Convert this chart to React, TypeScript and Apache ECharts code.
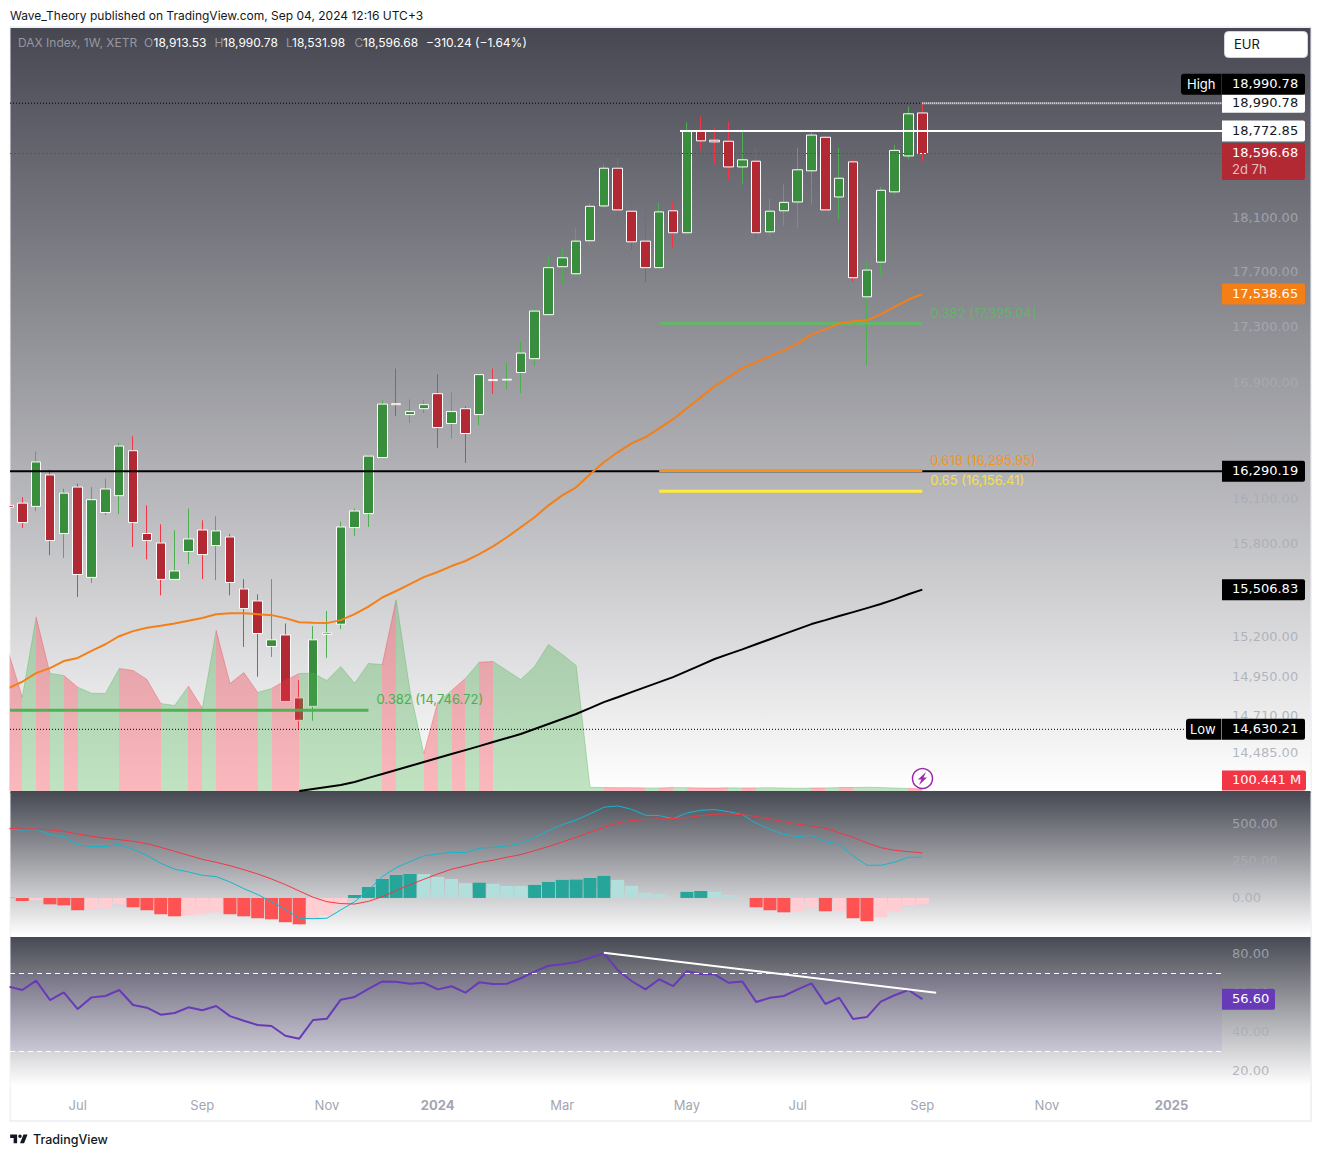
import React, { useEffect, useRef } from "react";
import * as echarts from "echarts";

// ---------- data ----------
const firstWeek = -1; // May 29 2023 is week -1, one step per week
const opens = [16061,16076,16054,16266,15874,16184,15586,16013,16126,16431,15874,15811,15573,15755,15897,15794,15851,15511,15434,15144,15217,14823,14771,15220,15285,15913,16006,16384,16756,16680,16721,16826,16618,16721,16680,16925,16922,16975,17073,17389,17740,17688,17933,18195,18483,18155,17930,17733,18158,17993,18772,18700,18692,18493,18537,18000,18158,18225,18463,18723,18263,18532,17519,17774,18302,18578,18913.53];
const closes = [16048,15946,16354,15827,16143,15605,16099,16171,16463,15946,15827,15573,15628,15838,15735,15891,15553,15385,15226,15186,14801,14685,15186,15230,15917,16023,16394,16753,16749,16701,16749,16590,16701,16549,16960,16918,16927,17113,17415,17733,17806,17930,18192,18483,18165,17925,17733,18150,17993,18772,18695,18687,18493,18548,17993,18155,18222,18471,18740,18165,18406,17659,17715,18314,18621,18906.9,18596.68];
const highs = [16075,16116,16426,16302,16173,16207,16184,16240,16486,16530,16061,15935,15895,16041,15961,15988,15869,15575,15477,15575,15290,14933,15273,15370,15952,16039,16394,16779,17003,16786,16779,16963,16835,16737,16968,17003,17045,17195,17439,17816,17873,18030,18218,18511,18560,18314,18190,18218,18227,18839,18886,18798,18844,18776,18640,18250,18358,18640,18776,18735,18640,18555,17784,18340,18664,18963,18990.78];
const lows = [16030,15911,16023,15730,15713,15459,15550,15995,16003,15785,15704,15470,15573,15672,15575,15568,15470,15141,14954,15078,14801,14630.21,14683,15072,15254,15858,15917,16384,16670,16622,16691,16449,16516,16347,16606,16823,16857,16831,17021,17389,17619,17663,17898,18177,18090,17865,17627,17733,17877,17993,18621,18514,18394,18358,17952,17967,18042,18027,18207,18165,18095,17627,17026,17674,18283,18552,18531.98];
const volumesM = [6940,4690,8690,5875,5775,5190,4890,4875,6125,6025,5575,4375,4275,5240,4140,8025,5375,5925,4925,5125,5525,5875,5890,5525,6225,5390,6375,6325,9560,5025,1875,4425,5025,5625,6440,6475,6025,5575,6225,7325,6825,6275,190,170,160,165,155,150,170,165,150,145,160,150,155,165,150,140,150,155,170,175,190,170,150,130,100.441];
const ema50 = [14884,14923,14977,15008,15052,15072,15116,15158,15209,15241,15262,15275,15290,15307,15325,15349,15355,15355,15349,15343,15324,15298,15294,15292,15311,15349,15397,15456,15498,15542,15588,15621,15660,15693,15738,15789,15849,15915,15982,16061,16128,16182,16271,16352,16420,16481,16523,16585,16648,16724,16800,16878,16941,17006,17048,17091,17132,17182,17247,17283,17326,17341,17348,17391,17445,17499,17538.65];
const ma200StartWeek = 20;
const ma200 = [14259,14271,14283,14295,14313,14337,14360,14384,14408,14432,14456,14480,14504,14528,14553,14577,14602,14632,14663,14693,14724,14760,14797,14827,14859,14890,14921,14952,14989,15027,15065,15096,15126,15158,15190,15222,15254,15286,15311,15337,15362,15388,15414,15444,15477,15506.83];
const macdLine = [468,457,464,428,414,360,347,347,363,329,288,234,194,176,153,144,108,63,23,-25,-77,-137,-140,-137,-81,-25,54,144,205,245,284,297,309,306,336,342,351,369,410,455,495,527,568,613,622,599,559,556,536,574,592,597,583,563,505,464,430,414,423,381,363,284,221,221,241,275,275];
const signalLine = [471,466,466,459,450,432,417,403,394,383,367,342,315,288,261,241,218,191,162,128,90,47,5,-25,-38,-41,-23,9,50,90,126,162,194,216,239,255,275,293,320,347,378,410,444,477,507,523,529,534,536,543,556,565,568,563,550,534,516,498,487,471,441,410,372,340,322,313,304];
const macdHist = [1,-20,-15,-43,-50,-83,-79,-70,-43,-63,-83,-110,-124,-117,-110,-97,-110,-124,-137,-144,-164,-178,-144,-117,-50,20,74,128,155,162,161,142,128,100,103,95,81,80,88,108,122,124,135,149,122,81,34,25,5,41,47,41,20,7,-63,-83,-97,-90,-63,-90,-89,-137,-157,-130,-90,-50,-43];
const rsi = [63,61.3,66.05,56.15,60.1,51.5,57.5,58.2,61.3,53.6,52.2,48.6,49.5,52.4,50.9,53.1,47.9,45.5,43.3,42.8,37.8,36.3,45.9,46.6,56.3,57.7,61.8,65.7,65.5,64.5,65,61.6,63.2,59.9,65.2,64.4,64.5,67.3,70.7,73.7,74.5,75.6,77.8,80.1,71.5,65.9,61.6,66.8,63.3,70.9,69.5,69.3,65,65.7,55.1,57.3,58.2,61.6,64.7,54.1,57.3,46.4,47.4,55.3,58.6,61.3,56.6];
const rsiTrendX = [42, 66];
const rsiTrendY = [80.4, 59.9];
const rsiUpper = 70;
const rsiLower = 30;

const monthWeeks = [4, 13, 22, 30, 39, 48, 56, 65, 74, 83];
const monthLabels = ["Jul", "Sep", "Nov", "2024", "Mar", "May", "Jul", "Sep", "Nov", "2025"];
const priceTicks = [18100, 17700, 17300, 16900, 16500, 16100, 15800, 15200, 14950, 14710, 14485];
const macdTicks = [0, 250, 500];
const rsiTicks = [20, 40, 60, 80];

const recentHigh = 18990.78;
const resistance = 18772.85;
const lastClose = 18596.68;
const support = 16290.19;
const yearLow = 14630.21;
const ema50Last = 17538.65;
const ma200Last = 15506.83;
const lastVolume = 100.441;
const lastRsi = 56.6;

const fibRight = [
  { price: 17325.04, label: "0.382 (17,325.04)" },
  { price: 16295.95, label: "0.618 (16,295.95)" },
  { price: 16156.41, label: "0.65 (16,156.41)" },
];
const fibLeft = { price: 14746.72, label: "0.382 (14,746.72)" };
const fibRightStart = 46;
const fibRightEnd = 65;
const fibLeftEnd = 25;

// ---------- layout constants ----------
const X_MIN = -0.888;
const X_MAX = 86.645;
const FONT = "Inter, 'Noto Sans', sans-serif";
const SCALE_FONT = "'DejaVu Sans', Inter, sans-serif";
const GREEN = "#4caf50";
const RED = "#f23645";
const BODY_GREEN = "#388e3c";
const BODY_RED = "#b22833";
const TICK = "rgba(168,171,183,0.85)";

const weekX = (i: number) => firstWeek + i;
const fmt = (v: number) =>
  v.toLocaleString("en-US", { minimumFractionDigits: 2, maximumFractionDigits: 2 });

function hline(name: string, v: number, from: number, to: number, color: string, width: number, type: any) {
  return {
    type: "line",
    name,
    xAxisIndex: 0,
    yAxisIndex: 0,
    data: [[from, v], [to, v]],
    symbol: "none",
    silent: true,
    animation: false,
    lineStyle: { color, width, type },
  };
}

type Tag = {
  value: number;
  text: string;
  bg?: string;
  fg: string;
  dy?: number;
  right?: number;
  h?: number;
  top?: number;
  sub?: string;
  side?: string;
};

function tagSeries(name: string, xAxisIndex: number, yAxisIndex: number, tags: Tag[]) {
  return {
    type: "custom",
    name,
    xAxisIndex,
    yAxisIndex,
    z: 6,
    silent: true,
    clip: false,
    animation: false,
    encode: { x: 0, y: 1 },
    data: tags.map((t) => [X_MAX, t.value]),
    renderItem: (params: any, api: any) => {
      const t = tags[params.dataIndex];
      const cy = api.coord([X_MAX, api.value(1)])[1] + (t.dy || 0);
      const children: any[] = [];
      const h = t.h || 21;
      const top = t.top !== undefined ? cy + t.top : cy - h / 2;
      if (t.side) {
        children.push({
          type: "rect",
          shape: { x: t.side === "High" ? 1181 : 1186, y: top, width: t.side === "High" ? 40.5 : 35.5, height: h, r: [3, 0, 0, 3] },
          style: { fill: "#000" },
        });
        children.push({
          type: "text",
          style: { x: t.side === "High" ? 1187 : 1190, y: cy - 0.5, text: t.side, fill: "#fff", font: `13px ${FONT}`, textAlign: "left", textVerticalAlign: "middle" },
        });
      }
      if (t.bg) {
        children.push({
          type: "rect",
          shape: { x: 1222, y: top, width: t.right ? t.right - 1222 : 83, height: h, r: [0, 2, 2, 0] },
          style: { fill: t.bg },
        });
      }
      children.push({
        type: "text",
        style: { x: 1232, y: cy - 0.7, text: t.text, fill: t.fg, font: `13px ${SCALE_FONT}`, textAlign: "left", textVerticalAlign: "middle" },
      });
      if (t.sub) {
        children.push({
          type: "text",
          style: { x: 1232, y: cy + 15.5, text: t.sub, fill: "rgba(255,255,255,0.7)", font: `13px ${FONT}`, textAlign: "left", textVerticalAlign: "middle" },
        });
      }
      return { type: "group", children };
    },
  };
}

function fibLabelSeries(name: string, items: { price: number; label: string }[], x: number, colors: string[], dx: number) {
  return {
    type: "custom",
    name,
    xAxisIndex: 0,
    yAxisIndex: 0,
    z: 5,
    silent: true,
    clip: false,
    animation: false,
    encode: { x: 0, y: 1 },
    data: items.map((f) => [x, f.price]),
    renderItem: (params: any, api: any) => {
      const p = api.coord([api.value(0), api.value(1)]);
      return {
        type: "text",
        style: {
          x: p[0] + dx,
          y: p[1] - 11,
          text: items[params.dataIndex].label,
          fill: colors[params.dataIndex],
          font: `13px ${FONT}`,
          textAlign: "left",
          textVerticalAlign: "middle",
        },
      };
    },
  };
}

function histColor(i: number) {
  const v = macdHist[i];
  const prev = i > 0 ? macdHist[i - 1] : 0;
  if (v >= 0) return prev < v ? "#26a69a" : "#b2dfdb";
  return prev < v ? "#ffcdd2" : "#ff5252";
}

function gradient(top: string, bottom: string) {
  return new echarts.graphic.LinearGradient(0, 0, 0, 1, [
    { offset: 0, color: top },
    { offset: 1, color: bottom },
  ]);
}

function buildOption() {
  const candleData = opens.map((o, i) => [weekX(i), o, closes[i], lows[i], highs[i]]);
  const bodyData = opens.map((o, i) => [weekX(i), o, closes[i], Math.min(o, closes[i]), Math.max(o, closes[i])]);

  const pieces = opens.map((o, i) => ({
    gt: i === 0 ? -5 : weekX(i) - 1,
    lte: weekX(i),
    color: closes[i] >= o ? GREEN : RED,
  }));

  const yAxisHidden = {
    axisLine: { show: false },
    axisTick: { show: false },
    axisLabel: { show: false },
    splitLine: { show: false },
  };
  const xBase = {
    type: "value",
    min: X_MIN,
    max: X_MAX,
    axisLine: { show: false },
    axisTick: { show: false },
    splitLine: { show: false },
  };

  const tickTags: Tag[] = priceTicks.map((v) => ({ value: v, text: fmt(v), fg: TICK }));

  return {
    animation: false,
    backgroundColor: "#ffffff",
    textStyle: { fontFamily: FONT },
    grid: [
      { left: 10, top: 28, width: 1212, height: 763 },
      { left: 10, top: 793, width: 1212, height: 143 },
      { left: 10, top: 938, width: 1212, height: 148 },
    ],
    xAxis: [
      { ...xBase, gridIndex: 0, axisLabel: { show: false } },
      { ...xBase, gridIndex: 1, axisLabel: { show: false } },
      {
        ...xBase,
        gridIndex: 2,
        axisLabel: {
          show: true,
          customValues: monthWeeks,
          margin: 12,
          fontSize: 13,
          fontFamily: FONT,
          color: "#a3a6b1",
          formatter: (v: number) => {
            const t = monthLabels[monthWeeks.indexOf(v)];
            return /^\d+$/.test(t) ? `{y|${t}}` : t;
          },
          rich: { y: { fontWeight: 700, fontSize: 13, fontFamily: FONT, color: "#a3a6b1" } },
        },
      },
    ],
    yAxis: [
      { type: "log", logBase: 10, gridIndex: 0, position: "right", min: 14259, max: 19595, ...yAxisHidden },
      { type: "value", gridIndex: 0, position: "right", min: 0, max: 38150, ...yAxisHidden },
      {
        type: "value",
        gridIndex: 1,
        position: "right",
        min: -257,
        max: 709,
        axisLine: { show: false },
        axisTick: { show: false },
        splitLine: { show: false },
        axisLabel: {
          show: true,
          customValues: macdTicks,
          margin: 10,
          fontSize: 13,
          fontFamily: SCALE_FONT,
          color: TICK,
          formatter: (v: number) => v.toFixed(2),
        },
      },
      {
        type: "value",
        gridIndex: 2,
        position: "right",
        min: 12.05,
        max: 87.95,
        axisLine: { show: false },
        axisTick: { show: false },
        splitLine: { show: false },
        axisLabel: {
          show: true,
          customValues: rsiTicks,
          margin: 10,
          fontSize: 13,
          fontFamily: SCALE_FONT,
          color: TICK,
          formatter: (v: number) => v.toFixed(2),
        },
      },
    ],
    visualMap: [
      {
        type: "piecewise",
        show: false,
        seriesIndex: 0,
        dimension: 0,
        pieces,
        outOfRange: { color: GREEN },
      },
    ],
    series: [
      {
        type: "line",
        name: "Volume",
        xAxisIndex: 0,
        yAxisIndex: 1,
        data: volumesM.map((v, i) => [weekX(i), v]),
        symbol: "none",
        silent: true,
        lineStyle: { width: 1, opacity: 0.35 },
        areaStyle: { opacity: 0.35 },
      },
      hline("Support", support, X_MIN, X_MAX, "#000000", 2, "solid"),
      hline("Recent high", recentHigh, X_MIN, 65, "#000000", 1, [1, 2]),
      hline("Recent high right", recentHigh, 65, X_MAX, "#ffffff", 2, [1, 1]),
      hline("Resistance", resistance, 47.5, X_MAX, "#ffffff", 2, "solid"),
      hline("Last close", lastClose, X_MIN, X_MAX, "#d4202c", 1.2, [2, 2]),
      hline("Low", yearLow, X_MIN, X_MAX, "#000000", 1, [1, 2]),
      hline("Fib 0.382", fibRight[0].price, fibRightStart, fibRightEnd, "#66b56a", 3, "solid"),
      hline("Fib 0.618", fibRight[1].price, fibRightStart, fibRightEnd, "#f7931e", 3, "solid"),
      hline("Fib 0.65", fibRight[2].price, fibRightStart, fibRightEnd, "#ffeb3b", 3, "solid"),
      hline("Fib left", fibLeft.price, X_MIN, fibLeftEnd, "rgba(76,175,80,0.95)", 3, "solid"),
      {
        type: "line",
        name: "EMA 50",
        xAxisIndex: 0,
        yAxisIndex: 0,
        data: ema50.map((v, i) => [weekX(i), v]),
        symbol: "none",
        silent: true,
        lineStyle: { color: "#f57f17", width: 2 },
      },
      {
        type: "line",
        name: "MA 200",
        xAxisIndex: 0,
        yAxisIndex: 0,
        data: ma200.map((v, i) => [ma200StartWeek + i, v]),
        symbol: "none",
        silent: true,
        lineStyle: { color: "#000000", width: 2 },
      },
      {
        type: "candlestick",
        name: "Wicks",
        xAxisIndex: 0,
        yAxisIndex: 0,
        barWidth: 3,
        silent: true,
        data: candleData,
        itemStyle: {
          color: GREEN,
          color0: RED,
          borderColor: GREEN,
          borderColor0: RED,
          borderColorDoji: GREEN,
          borderWidth: 1,
        },
      },
      {
        type: "candlestick",
        name: "DAX Index",
        xAxisIndex: 0,
        yAxisIndex: 0,
        barWidth: 10,
        silent: true,
        data: bodyData,
        itemStyle: {
          color: BODY_GREEN,
          color0: BODY_RED,
          borderColor: "#ffffff",
          borderColor0: "#ffffff",
          borderColorDoji: "#ffffff",
          borderWidth: 1,
        },
      },
      fibLabelSeries("Fib labels", fibRight, fibRightEnd, ["#62b566", "#f7931e", "#f4e04d"], 8),
      fibLabelSeries("Fib left label", [fibLeft], fibLeftEnd, ["#4caf50"], 8),
      tagSeries("Price scale", 0, 0, tickTags),
      tagSeries("Price tags", 0, 0, [
        { value: recentHigh, text: fmt(recentHigh), bg: "#ffffff", fg: "#131722", h: 19 },
        { value: recentHigh, text: fmt(recentHigh), bg: "#000000", fg: "#ffffff", dy: -19, side: "High" },
        { value: resistance, text: fmt(resistance), bg: "#ffffff", fg: "#131722" },
        { value: lastClose, text: fmt(lastClose), bg: BODY_RED, fg: "#ffffff", h: 37, top: -10.5, sub: "2d 7h" },
        { value: ema50Last, text: fmt(ema50Last), bg: "#f57f17", fg: "#ffffff" },
        { value: support, text: fmt(support), bg: "#000000", fg: "#ffffff" },
        { value: ma200Last, text: fmt(ma200Last), bg: "#000000", fg: "#ffffff" },
        { value: yearLow, text: fmt(yearLow), bg: "#000000", fg: "#ffffff", side: "Low" },
      ]),
      tagSeries("Volume tag", 0, 1, [
        { value: lastVolume, text: `${lastVolume.toFixed(3)} M`, bg: RED, fg: "#ffffff", dy: -8.5, right: 1306, h: 20 },
      ]),
      {
        type: "bar",
        name: "Histogram",
        xAxisIndex: 1,
        yAxisIndex: 2,
        barWidth: 13,
        silent: true,
        data: macdHist.map((v, i) => ({ value: [weekX(i), v], itemStyle: { color: histColor(i) } })),
      },
      {
        type: "line",
        name: "MACD",
        xAxisIndex: 1,
        yAxisIndex: 2,
        data: macdLine.map((v, i) => [weekX(i), v]),
        symbol: "none",
        silent: true,
        lineStyle: { color: "#13b6cf", width: 1 },
      },
      {
        type: "line",
        name: "Signal",
        xAxisIndex: 1,
        yAxisIndex: 2,
        data: signalLine.map((v, i) => [weekX(i), v]),
        symbol: "none",
        silent: true,
        lineStyle: { color: "#f23645", width: 1 },
      },
      {
        type: "line",
        name: "RSI",
        xAxisIndex: 2,
        yAxisIndex: 3,
        data: rsi.map((v, i) => [weekX(i), v]),
        symbol: "none",
        silent: true,
        lineStyle: { color: "#673ab7", width: 2 },
        markArea: {
          silent: true,
          itemStyle: { color: "rgba(126,87,194,0.1)" },
          data: [[{ coord: [X_MIN, rsiUpper] }, { coord: [X_MAX, rsiLower] }]],
        },
        markLine: {
          silent: true,
          symbol: "none",
          label: { show: false },
          lineStyle: { color: "#ffffff", width: 1, type: [5, 4] },
          data: [{ yAxis: rsiUpper }, { yAxis: rsiLower }],
        },
      },
      {
        type: "line",
        name: "RSI trend",
        xAxisIndex: 2,
        yAxisIndex: 3,
        data: rsiTrendX.map((x, i) => [x, rsiTrendY[i]]),
        symbol: "none",
        silent: true,
        lineStyle: { color: "#ffffff", width: 2 },
      },
      tagSeries("RSI tag", 2, 3, [
        { value: lastRsi, text: lastRsi.toFixed(2), bg: "#673ab7", fg: "#ffffff", right: 1275 },
      ]),
    ],
    graphic: {
      elements: [
        { type: "rect", silent: true, z: -20, shape: { x: 10, y: 27, width: 1301, height: 1094 }, style: { fill: "#ffffff", stroke: "#e3e4ec", lineWidth: 1 } },
        { type: "rect", silent: true, z: -10, shape: { x: 10.5, y: 28, width: 1300, height: 763 }, style: { fill: gradient("#464751", "#ffffff") } },
        { type: "rect", silent: true, z: -10, shape: { x: 10.5, y: 791, width: 1300, height: 2 }, style: { fill: "#464751" } },
        { type: "rect", silent: true, z: -10, shape: { x: 10.5, y: 792, width: 1300, height: 144 }, style: { fill: gradient("#474953", "#ffffff") } },
        { type: "rect", silent: true, z: -10, shape: { x: 10.5, y: 937, width: 1300, height: 149 }, style: { fill: gradient("#474953", "#ffffff") } },
        { type: "rect", silent: true, z: 30, shape: { x: 0, y: 28, width: 9.5, height: 1092 }, style: { fill: "#ffffff" } },
        { type: "text", silent: true, z: 20, style: { x: 10, y: 15, text: "Wave_Theory published on TradingView.com, Sep 04, 2024 12:16 UTC+3", fill: "#131722", font: `12px ${FONT}`, textVerticalAlign: "middle" } },
        { type: "text", silent: true, z: 20, style: { x: 18, y: 42.5, text: "DAX Index, 1W, XETR", fill: "#9598a1", font: `12px ${FONT}`, textVerticalAlign: "middle" } },
        ...[
          ["O", "18,913.53", 144, 153.5],
          ["H", "18,990.78", 214.5, 223],
          ["L", "18,531.98", 286, 292],
          ["C", "18,596.68", 354.5, 363],
        ].flatMap(([k, v, kx, vx]) => [
          { type: "text", silent: true, z: 20, style: { x: kx, y: 42.5, text: k, fill: "#9598a1", font: `12px ${FONT}`, textVerticalAlign: "middle" } },
          { type: "text", silent: true, z: 20, style: { x: vx, y: 42.5, text: v, fill: "#ffffff", font: `12px ${FONT}`, textVerticalAlign: "middle" } },
        ]),
        { type: "text", silent: true, z: 20, style: { x: 426, y: 42.5, text: "\u2212310.24 (\u22121.64%)", fill: "#ffffff", font: `12px ${FONT}`, textVerticalAlign: "middle" } },
        { type: "rect", silent: true, z: 20, shape: { x: 1224.5, y: 31.5, width: 83, height: 26, r: 4 }, style: { fill: "#ffffff", stroke: "#d1d4dc", lineWidth: 1 } },
        { type: "text", silent: true, z: 21, style: { x: 1234, y: 44, text: "EUR", fill: "#131722", font: `13px ${FONT}`, textVerticalAlign: "middle" } },
        { type: "circle", silent: true, z: 20, shape: { cx: 922.5, cy: 778.5, r: 10 }, style: { fill: "rgba(255,255,255,0.6)", stroke: "#9c27b0", lineWidth: 1.5 } },
        { type: "polygon", silent: true, z: 21, shape: { points: [[926, 772], [918, 779.5], [921.5, 779.5], [919, 785], [927, 777.5], [923.5, 777.5]] }, style: { fill: "#9c27b0" } },
        { type: "tvlogo", silent: true, z: 20, x: 9, y: 1131, scaleX: 0.58, scaleY: 0.58, style: { fill: "#131722" } },
        { type: "text", silent: true, z: 20, style: { x: 33, y: 1139, text: "TradingView", fill: "#131722", font: `500 12.5px ${FONT}`, textVerticalAlign: "middle" } },
      ],
    },
  };
}

export default function App() {
  const ref = useRef<HTMLDivElement | null>(null);
  useEffect(() => {
    document.body.style.margin = "0";
    if (!(echarts.graphic as any).getShapeClass("tvlogo")) {
      echarts.graphic.registerShape(
        "tvlogo",
        echarts.graphic.extendPath("M14 6H2v6h6v9h6V6zm12 15h-7l6-15h7l-6 15zm-7-9a3 3 0 1 0 0-6 3 3 0 0 0 0 6z", {}) as any
      );
    }
    const chart = echarts.init(ref.current as HTMLDivElement, undefined, { renderer: "svg" });
    chart.setOption(buildOption() as any);
    return () => chart.dispose();
  }, []);
  return <div ref={ref} style={{ width: 1321, height: 1156, position: "absolute", left: 0, top: 0 }} />;
}
